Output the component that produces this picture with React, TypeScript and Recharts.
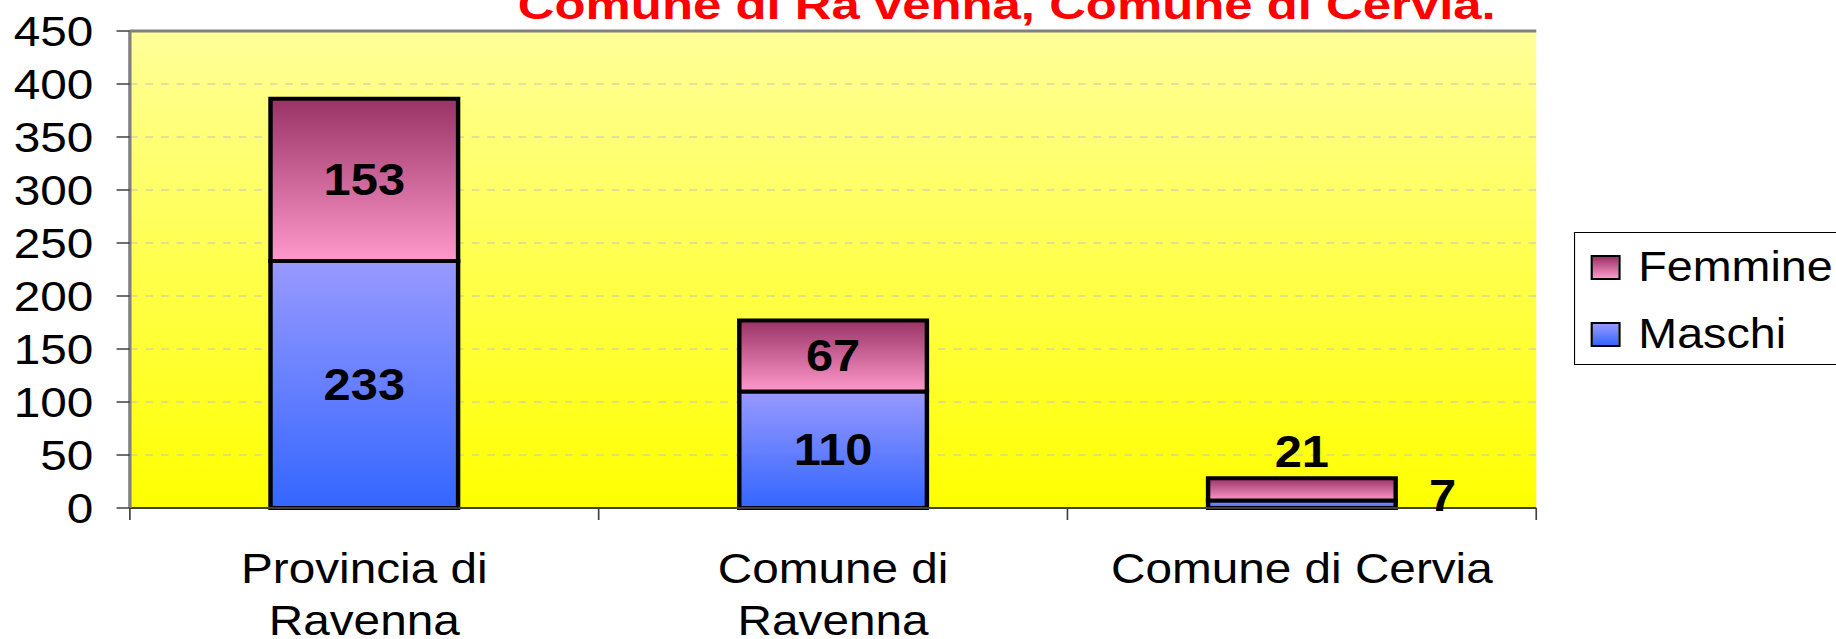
import React from 'react';
import { BarChart, Bar, XAxis, YAxis, CartesianGrid, LabelList, Legend, ReferenceLine } from 'recharts';

const categories = ['Provincia di Ravenna', 'Comune di Ravenna', 'Comune di Cervia'];
const categoryLines = [['Provincia di', 'Ravenna'], ['Comune di', 'Ravenna'], ['Comune di Cervia']];
const maschi = [233, 110, 7];
const femmine = [153, 67, 21];
const yTicks = [0, 50, 100, 150, 200, 250, 300, 350, 400, 450];
const titleText = 'Comune di Ra venna, Comune di Cervia.';
const legendOrder = ['Femmine', 'Maschi'];

const data = categories.map((c, i) => ({ name: c, Maschi: maschi[i], Femmine: femmine[i] }));

const FONT = '"Liberation Sans", Arial, Helvetica, sans-serif';
const STRETCH = 1.11;
const W = 1654;
const H = 639;

const XTick = (props: any) => {
  const { x, y, payload, index } = props;
  const half = payload && typeof payload.offset === 'number' && payload.offset > 0 ? payload.offset : 211;
  const idx = typeof index === 'number' ? index : payload.index;
  const lines = categoryLines[idx] || [String(payload.value)];
  return (
    <g>
      <line x1={x - half} y1={y} x2={x - half} y2={y + 12} stroke="#404040" strokeWidth={1.5} />
      {idx === categories.length - 1 && (
        <line x1={x + half} y1={y} x2={x + half} y2={y + 12} stroke="#404040" strokeWidth={1.5} />
      )}
      <text x={x} y={y + 75} textAnchor="middle" fontSize={43} fill="#000" fontFamily={FONT}>
        {lines.map((l: string, i: number) => (
          <tspan key={i} x={x} dy={i === 0 ? 0 : 52}>{l}</tspan>
        ))}
      </text>
    </g>
  );
};

const makeLabel = (series: 'M' | 'F') => (props: any) => {
  const { x, y, width, height, value } = props;
  const cx = x + width / 2;
  const common = { fontSize: 44, fontWeight: 'bold' as const, fill: '#000', fontFamily: FONT };
  if (height >= 40) {
    return (
      <text x={cx} y={y + height / 2} textAnchor="middle" dominantBaseline="central" {...common}>
        {value}
      </text>
    );
  }
  if (series === 'F') {
    return (
      <text x={cx} y={y - 11} textAnchor="middle" {...common}>
        {value}
      </text>
    );
  }
  return (
    <text x={x + width + 30} y={y + height / 2 - 8} textAnchor="start" dominantBaseline="central" {...common}>
      {value}
    </text>
  );
};

const legendGrad: Record<string, string> = {
  Femmine: 'linear-gradient(to bottom, #993366, #FF99CC)',
  Maschi: 'linear-gradient(to bottom, #9999FF, #3366FF)',
};

const renderLegend = () => (
  <div
    style={{
      position: 'relative',
      width: 300,
      height: 133,
      border: '1px solid #000',
      background: '#fff',
      boxSizing: 'border-box',
      fontFamily: FONT,
    }}
  >
    {legendOrder.map((name, i) => (
      <div key={name}>
        <div
          style={{
            position: 'absolute',
            left: 14,
            top: 22 + i * 67,
            width: 27,
            height: 25,
            boxSizing: 'border-box',
            border: '2px solid #000',
            background: legendGrad[name],
          }}
        />
        <div
          style={{
            position: 'absolute',
            left: 57,
            top: 34 + i * 67 - 24,
            height: 48,
            lineHeight: '48px',
            fontSize: 42,
            color: '#000',
            whiteSpace: 'nowrap',
          }}
        >
          {name}
        </div>
      </div>
    ))}
  </div>
);

export default function App() {
  return (
    <div
      style={{
        position: 'absolute',
        left: 0,
        top: 0,
        width: W,
        height: H,
        overflow: 'hidden',
        background: '#fff',
        transform: `scaleX(${STRETCH})`,
        transformOrigin: '0 0',
      }}
    >
      <BarChart
        width={W}
        height={H}
        data={data}
        margin={{ top: 31, right: 270, bottom: 0, left: 0 }}
        barCategoryGap="30%"
      >
        <defs>
          <linearGradient id="bgGrad" x1="0" y1="0" x2="0" y2="1">
            <stop offset="0%" stopColor="#FFFF99" />
            <stop offset="100%" stopColor="#FFFF00" />
          </linearGradient>
          <linearGradient id="mGrad" x1="0" y1="0" x2="0" y2="1">
            <stop offset="0%" stopColor="#9999FF" />
            <stop offset="100%" stopColor="#3366FF" />
          </linearGradient>
          <linearGradient id="fGrad" x1="0" y1="0" x2="0" y2="1">
            <stop offset="0%" stopColor="#993366" />
            <stop offset="100%" stopColor="#FF99CC" />
          </linearGradient>
        </defs>
        <CartesianGrid
          vertical={false}
          stroke="#c4c4c4"
          strokeDasharray="7 7"
          fill="url(#bgGrad)"
          fillOpacity={1}
        />
        <XAxis
          dataKey="name"
          height={131}
          interval={0}
          tickLine={false}
          tickSize={0}
          tickMargin={0}
          axisLine={{ stroke: '#404040', strokeWidth: 2 }}
          tick={<XTick />}
        />
        <YAxis
          width={117}
          domain={[0, 450]}
          ticks={yTicks}
          interval={0}
          tickSize={12}
          tickMargin={21}
          axisLine={{ stroke: '#808080', strokeWidth: 3 }}
          tickLine={{ stroke: '#404040', strokeWidth: 1.5 }}
          tick={{ fill: '#000', fontSize: 43, fontFamily: FONT }}
        />
        <YAxis
          yAxisId="right"
          orientation="right"
          width={0}
          tick={false}
          tickLine={false}
          axisLine={{ stroke: '#a0a0a0', strokeWidth: 2 }}
        />
        <ReferenceLine y={450} stroke="#808080" strokeWidth={3} />
        <Legend
          layout="vertical"
          align="center"
          verticalAlign="middle"
          content={renderLegend}
          wrapperStyle={{ position: 'absolute', left: 1418, top: 232, width: 300, height: 133 }}
        />
        <Bar dataKey="Maschi" stackId="a" fill="url(#mGrad)" stroke="#000" strokeWidth={4} isAnimationActive={false}>
          <LabelList dataKey="Maschi" content={makeLabel('M')} />
        </Bar>
        <Bar dataKey="Femmine" stackId="a" fill="url(#fGrad)" stroke="#000" strokeWidth={4} isAnimationActive={false}>
          <LabelList dataKey="Femmine" content={makeLabel('F')} />
        </Bar>
      </BarChart>
      <svg
        width={W}
        height={40}
        style={{ position: 'absolute', left: 0, top: 0, pointerEvents: 'none' }}
      >
        <text
          x={907}
          y={19}
          textAnchor="middle"
          fontSize={40}
          fontWeight="bold"
          fill="#FF0000"
          fontFamily={FONT}
          textLength={881}
          lengthAdjust="spacingAndGlyphs"
        >
          {titleText}
        </text>
      </svg>
    </div>
  );
}
